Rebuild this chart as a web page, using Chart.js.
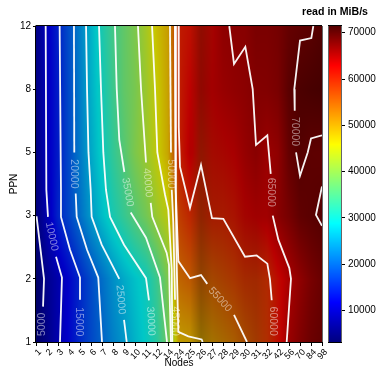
<!DOCTYPE html>
<html><head><meta charset="utf-8">
<style>html,body{margin:0;padding:0;background:#fff}#w{width:378px;height:367px}</style>
<script src="https://cdn.jsdelivr.net/npm/chart.js@4"></script></head>
<body><div id="w"><canvas id="c" width="378" height="367"></canvas></div>
<script>
const nodes=["1","2","3","4","5","6","7","8","9","10","11","12","14","24","25","26","27","28","29","30","31","32","42","56","70","84","98"];
const ppn=["1","2","3","5","8","12"];
const ppn1=[3170,6200,9500,12200,15200,17700,20000,22500,24500,27000,29200,32200,38000,49000,49400,49800,51000,52200,53500,55200,56800,58500,61700,65500,67500,68800,69500];
const ppn2=[3300,6700,9200,12000,15000,18000,21000,23800,26200,28200,30000,33800,39300,54000,55000,54800,55500,56500,57500,58600,58700,59000,62000,64500,66500,68000,69000];
const ppn3=[4850,9500,14700,17600,21100,24800,27800,30800,33300,36000,38500,42000,44700,57500,59500,58800,60100,60200,61000,62500,63000,64000,66500,67800,69500,69950,70300];
const ppn5=[5600,10500,14000,18000,22000,26000,29700,33000,36000,39400,42000,45200,48800,60000,63700,60300,61800,62300,63000,64000,64800,64500,66000,69000,70300,69700,69600];
const ppn8=[5700,10500,14000,18000,22300,26600,30300,33800,37000,39000,42000,45600,49200,60300,62800,62000,63000,64000,64700,64800,65300,66300,67500,69700,70800,71100,71300];
const ppn12=[5800,10600,14400,18300,22500,26900,31000,34400,37000,39400,42800,46800,49500,60500,61500,61500,62500,64700,65300,65100,66000,66800,67800,69000,69600,69900,70500];
const valueRows=[ppn1,ppn2,ppn3,ppn5,ppn8,ppn12];
const colorbarMin=3170,colorbarMax=71450;
const colorbarTicks=[10000,20000,30000,40000,50000,60000,70000];
const palette=[[0,0,128],[0,0,255],[0,128,255],[0,255,255],[128,255,128],[255,255,0],[255,128,0],[255,0,0],[85,0,0]];
// brightness of the surface along each Nodes column (the picture's banding)
const columnShade=[.78,.78,.78,.78,.78,.78,.78,.78,.78,.78,.78,.78,.78,.75,.74,.56,.64,.65,.66,.64,.63,.69,.74,.75,.78,.78,.78];
// contour lines, in (Nodes category index, PPN category index)
const c5000=[[0.05,1.99],[0.73,1],[0.64,0.56]];
const c10000a=[[0.88,5],[0.94,2.41],[1.09,1.98]];
const c10000b=[[1.82,1.35],[2.36,1.02],[2.18,0]];
const c15000=[[2.15,5],[2.27,2.41],[2.27,1.98],[3.09,1.46],[4,1.02],[4,0.67]];
const c20000a=[[3.45,5],[3.48,3]];
const c20000b=[[3.61,2.35],[3.7,1.98],[4.64,1.46],[5.66,1.02],[6,0]];
const c25000a=[[4.55,5],[4.64,4],[4.77,3],[4.97,2.41],[5.06,1.98],[5.97,1.54],[7.57,1]];
const c25000b=[[8,0.35],[8.25,0]];
const c30000=[[5.73,5],[5.91,4],[6.12,3],[6.36,2.41],[6.73,1.98],[8,1.54],[10,1.01],[10.27,0.66]];
const c35000a=[[7.18,5],[7.34,4],[7.57,3.2],[8.03,2.69]];
const c35000b=[[8.61,2.05],[10,1.65],[11.27,1.02],[11.57,0.54],[11.91,0]];
const c40000a=[[9.27,5],[9.55,4],[10,2.84]];
const c40000b=[[10.43,2.2],[10.57,1.98],[11.88,1.41],[12.09,1.22],[12.18,0.54],[12.27,0]];
const c45000=[[10.55,5],[10.82,4],[11.03,3],[11.73,2.33],[12.03,2.09],[12.34,1.14],[12.39,0]];
const c50000a=[[12.18,5],[12.27,3]];
const c50000b=[[12.34,2.41],[12.48,1.89],[12.57,1.22],[12.64,0.67]];
const c50000c=[[12.64,5],[12.7,2.41],[12.79,1.22],[12.94,0.16],[13.85,0.09],[15.06,0.04],[15.15,0]];
const c55000a=[[12.64,5],[12.7,2.41],[12.94,1.28],[14,1.01],[15,1.06],[15.57,0.92]];
const c55000b=[[18,0.43],[19.18,0]];
const c60000=[[12.96,5],[12.98,3.4],[13.09,2.77],[14,2.12],[15,2.8],[16,1.96],[17.03,1.95],[19,1.35],[20.06,1.37],[21.03,1.24],[21.27,0.99],[21.43,0.66]];
const c65000a=[[17.57,5],[18,4.4],[19.03,4.67],[19.7,4],[20,3.12],[21.03,3.27],[21.34,2.66]];
const c65000b=[[21.52,2],[22.03,1.62],[23.03,1.17],[23.18,1],[22.79,0]];
const c70000a=[[25.21,5],[25.03,4.81],[24,4.77],[23.48,4],[23.52,3.66]];
const c70000b=[[23.64,3],[24,2.63],[24.7,3],[25,3.22],[26,3.27]];
const c70000c=[[26,2.46],[25.45,2.01],[26,1.84]];
const contourLines=[c5000,c10000a,c10000b,c15000,c20000a,c20000b,c25000a,c25000b,c30000,c35000a,c35000b,c40000a,c40000b,c45000,c50000a,c50000b,c50000c,c55000a,c55000b,c60000,c65000a,c65000b,c70000a,c70000b,c70000c];
const labelText=["5000","10000","15000","20000","25000","30000","35000","40000","45000","50000","55000","60000","65000","70000"];
const labelX=[0.55,1.43,3.91,3.45,7.7,10.43,8.32,10.14,12.64,12.25,16.73,21.52,21.34,23.55];
const labelY=[0.28,1.67,0.32,2.66,0.67,0.33,2.37,2.52,0.33,2.66,0.67,0.33,2.37,3.33];
const labelAngle=[-90,78,90,90,85,87,80,85,90,90,48,90,90,90];

const FONT='"Liberation Sans",Arial,sans-serif';
function paletteColor(v){
  let t=(v-colorbarMin)/(colorbarMax-colorbarMin)*(palette.length-1);
  t=Math.max(0,Math.min(palette.length-1-1e-6,t));
  const i=Math.floor(t),f=t-i,a=palette[i],b=palette[i+1];
  return [a[0]+(b[0]-a[0])*f,a[1]+(b[1]-a[1])*f,a[2]+(b[2]-a[2])*f];
}
function cellValue(xv,yv){
  const i=Math.max(0,Math.min(nodes.length-2,Math.floor(xv))),j=Math.max(0,Math.min(ppn.length-2,Math.floor(yv)));
  const fx=xv-i,fy=yv-j;
  const a=valueRows[j][i],b=valueRows[j][i+1],c=valueRows[j+1][i],d=valueRows[j+1][i+1];
  return (a*(1-fx)+b*fx)*(1-fy)+(c*(1-fx)+d*fx)*fy;
}
function shadeAt(xv){
  const i=Math.max(0,Math.min(nodes.length-2,Math.floor(xv))),f=xv-i;
  return columnShade[i]*(1-f)+columnShade[i+1]*f;
}
const heatPlugin={id:'heat',
  afterLayout(chart){
    const cb=chart.scales.cb; cb.left=341; cb.right=378; cb.width=37;
  },
  beforeDatasetsDraw(chart){
    const {ctx,chartArea:A,scales:{x,y}}=chart;
    const W=Math.round(A.right-A.left),H=Math.round(A.bottom-A.top);
    const off=document.createElement('canvas');off.width=W;off.height=H;
    const oc=off.getContext('2d'),img=oc.createImageData(W,H);
    for(let r=0;r<H;r++){
      const yv=y.getValueForPixel(A.top+r+0.5);
      for(let q=0;q<W;q++){
        const xv=x.getValueForPixel(A.left+q+0.5);
        const col=paletteColor(cellValue(xv,yv)),s=shadeAt(xv);
        const k=(r*W+q)*4;
        img.data[k]=col[0]*s;img.data[k+1]=col[1]*s;img.data[k+2]=col[2]*s;img.data[k+3]=255;
      }
    }
    oc.putImageData(img,0,0);
    ctx.drawImage(off,A.left,A.top);
  },
  afterDatasetsDraw(chart){
    const {ctx,chartArea:A,scales:{x,y,cb}}=chart;
    ctx.save();
    ctx.font='10.5px '+FONT;ctx.fillStyle='rgba(255,255,255,0.5)';ctx.textAlign='center';ctx.textBaseline='middle';
    labelText.forEach((t,n)=>{
      ctx.save();ctx.translate(x.getPixelForValue(labelX[n]),y.getPixelForValue(labelY[n]));
      ctx.rotate(labelAngle[n]*Math.PI/180);ctx.fillText(t,0,0);ctx.restore();
    });
    // plot frame
    ctx.lineWidth=1;ctx.strokeStyle='#000';
    ctx.beginPath();ctx.moveTo(A.left-0.5,A.top-0.5);ctx.lineTo(A.right,A.top-0.5);ctx.moveTo(A.left-0.5,A.top);ctx.lineTo(A.left-0.5,A.bottom);ctx.moveTo(A.left-0.5,A.bottom+0.5);ctx.lineTo(A.right,A.bottom+0.5);ctx.stroke();
    ctx.strokeStyle='#666';ctx.beginPath();ctx.moveTo(A.right+0.5,A.top);ctx.lineTo(A.right+0.5,A.bottom);ctx.stroke();
    // colour bar, read through its own scale
    const bl=329,br=341;
    for(let py=Math.round(A.top);py<Math.round(A.bottom);py++){
      const col=paletteColor(cb.getValueForPixel(py+0.5));
      ctx.fillStyle=`rgb(${col[0]|0},${col[1]|0},${col[2]|0})`;ctx.fillRect(bl,py,br-bl,1);
    }
    ctx.strokeStyle='#666';ctx.beginPath();ctx.moveTo(bl-0.5,A.top);ctx.lineTo(bl-0.5,A.bottom);ctx.moveTo(br+0.5,A.top);ctx.lineTo(br+0.5,A.bottom);ctx.stroke();
    ctx.strokeStyle='#000';ctx.beginPath();ctx.moveTo(bl-1,A.top-0.5);ctx.lineTo(br+1,A.top-0.5);ctx.moveTo(bl-1,A.bottom+0.5);ctx.lineTo(br+1,A.bottom+0.5);ctx.stroke();
    ctx.restore();
  }
};
const tickFont={family:FONT,size:10};
new Chart(document.getElementById('c'),{
  type:'scatter',
  data:{datasets:contourLines.map(line=>({
    data:line.map(p=>({x:p[0],y:p[1]})),showLine:true,pointRadius:0,pointHoverRadius:0,
    borderColor:'rgba(255,255,255,0.95)',borderWidth:1.8,tension:0,borderJoinStyle:'miter',borderCapStyle:'butt',fill:false
  }))},
  options:{
    responsive:false,animation:false,events:[],
    layout:{padding:{right:10,left:0,top:0,bottom:0}},
    plugins:{
      legend:{display:false},tooltip:{enabled:false},
      title:{display:true,text:'read in MiB/s',align:'end',color:'#000',font:{family:FONT,size:10.6,weight:'bold'},padding:{top:5.5,bottom:7.8}}
    },
    scales:{
      x:{type:'linear',min:0,max:26,position:'bottom',
        grid:{drawOnChartArea:false,tickLength:4,tickColor:'#000'},border:{display:false},
        ticks:{stepSize:1,autoSkip:false,maxRotation:45,minRotation:45,color:'#000',font:{family:FONT,size:9},padding:1,labelOffset:4,callback:v=>nodes[v]},
        title:{display:true,text:'Nodes',color:'#000',font:tickFont,padding:{top:0,bottom:-2}},
        afterFit(s){s.height=25;}},
      y:{type:'linear',min:0,max:5,position:'left',
        grid:{drawOnChartArea:false,tickLength:3,tickColor:'#000'},border:{display:false},
        ticks:{stepSize:1,autoSkip:false,color:'#000',font:tickFont,padding:2,callback:v=>ppn[v]},
        title:{display:true,text:'PPN',color:'#000',font:tickFont,padding:{top:8,bottom:0}},
        afterFit(s){s.width=36;}},
      cb:{type:'linear',min:colorbarMin,max:colorbarMax,position:'right',
        grid:{drawOnChartArea:false,tickLength:4,tickColor:'#000'},border:{display:false},
        ticks:{autoSkip:false,color:'#000',font:tickFont,padding:3,callback:v=>String(v)},
        afterBuildTicks(s){s.ticks=colorbarTicks.map(v=>({value:v}));},
        afterFit(s){s.width=46;}}
    }
  },
  plugins:[heatPlugin]
});
</script></body></html>
